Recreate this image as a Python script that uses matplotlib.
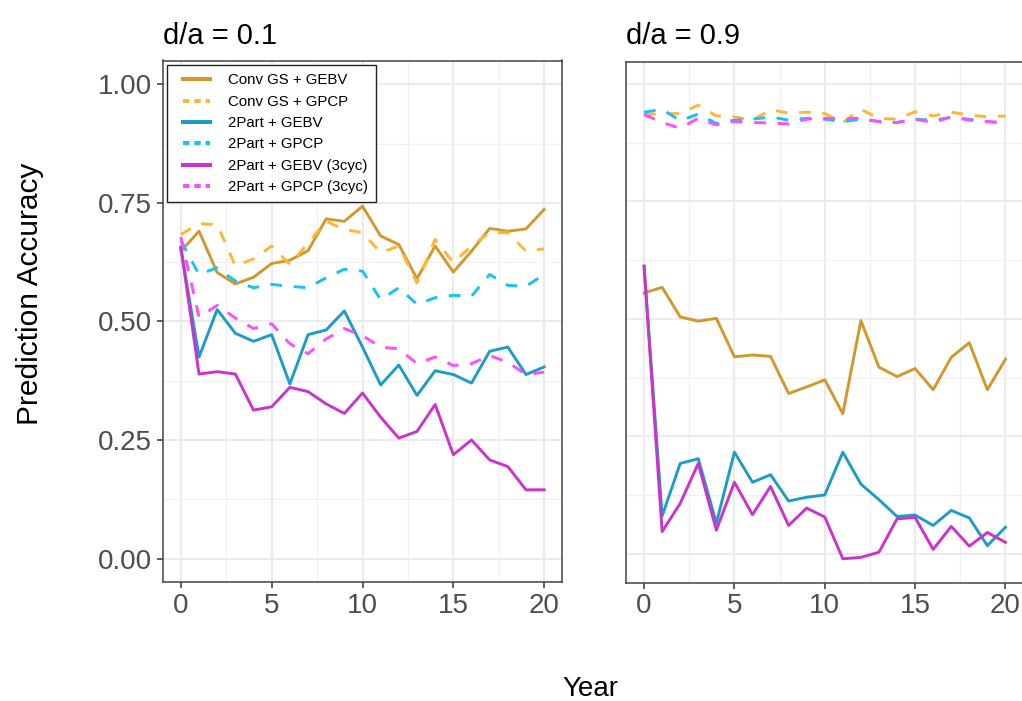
import matplotlib
matplotlib.use("Agg")
import matplotlib.pyplot as plt
from matplotlib.lines import Line2D
from matplotlib.legend_handler import HandlerLine2D

plt.rcParams['font.family'] = ['Liberation Sans', 'DejaVu Sans']

years = list(range(21))

series_names = ['Conv GS + GEBV', 'Conv GS + GPCP', '2Part + GEBV', '2Part + GPCP',
                '2Part + GEBV (3cyc)', '2Part + GPCP (3cyc)']
series_colors = ['#D3982C', '#FFB633', '#1C9CC7', '#14C3F5', '#CC33CC', '#FF4DFF']
series_dashed = [False, True, False, True, False, True]

# d/a = 0.1
low_conv_gebv = [0.648, 0.690, 0.603, 0.579, 0.593, 0.622, 0.629, 0.649, 0.716, 0.711, 0.743,
                 0.680, 0.662, 0.590, 0.659, 0.604, 0.648, 0.696, 0.690, 0.695, 0.736]
low_conv_gpcp = [0.683, 0.706, 0.704, 0.617, 0.632, 0.659, 0.620, 0.665, 0.711, 0.694, 0.687,
                 0.645, 0.659, 0.581, 0.673, 0.624, 0.659, 0.687, 0.687, 0.648, 0.653]
low_2p_gebv = [0.654, 0.425, 0.525, 0.475, 0.458, 0.472, 0.368, 0.472, 0.482, 0.522, 0.446,
               0.366, 0.408, 0.344, 0.396, 0.388, 0.370, 0.437, 0.446, 0.388, 0.404]
low_2p_gpcp = [0.670, 0.599, 0.613, 0.585, 0.571, 0.578, 0.574, 0.571, 0.592, 0.610, 0.606,
               0.546, 0.571, 0.536, 0.550, 0.555, 0.553, 0.599, 0.576, 0.574, 0.599]
low_3c_gebv = [0.657, 0.389, 0.394, 0.389, 0.313, 0.320, 0.361, 0.352, 0.326, 0.306, 0.349,
               0.298, 0.254, 0.268, 0.325, 0.219, 0.250, 0.208, 0.194, 0.145, 0.145]
low_3c_gpcp = [0.678, 0.509, 0.534, 0.507, 0.485, 0.495, 0.453, 0.432, 0.463, 0.485, 0.470,
               0.446, 0.442, 0.411, 0.425, 0.407, 0.411, 0.428, 0.414, 0.388, 0.393]

# d/a = 0.9
high_conv_gebv = [0.555, 0.567, 0.504, 0.495, 0.501, 0.419, 0.423, 0.420, 0.341, 0.355, 0.370,
                  0.298, 0.496, 0.397, 0.377, 0.394, 0.349, 0.418, 0.449, 0.349, 0.414]
high_conv_gpcp = [0.935, 0.937, 0.937, 0.955, 0.932, 0.930, 0.923, 0.945, 0.938, 0.940, 0.937,
                  0.918, 0.946, 0.927, 0.925, 0.941, 0.932, 0.940, 0.934, 0.930, 0.932]
high_2p_gebv = [0.612, 0.080, 0.192, 0.202, 0.065, 0.216, 0.152, 0.168, 0.112, 0.120, 0.125,
                0.216, 0.148, 0.115, 0.079, 0.082, 0.060, 0.092, 0.076, 0.017, 0.056]
high_2p_gpcp = [0.940, 0.946, 0.922, 0.936, 0.916, 0.923, 0.925, 0.930, 0.923, 0.927, 0.925,
                0.920, 0.925, 0.920, 0.918, 0.925, 0.923, 0.929, 0.925, 0.920, 0.916]
high_3c_gebv = [0.612, 0.047, 0.107, 0.192, 0.050, 0.152, 0.083, 0.143, 0.060, 0.097, 0.078,
                -0.011, -0.008, 0.003, 0.074, 0.077, 0.009, 0.058, 0.016, 0.045, 0.024]
high_3c_gpcp = [0.935, 0.918, 0.906, 0.927, 0.913, 0.920, 0.918, 0.917, 0.915, 0.925, 0.927,
                0.926, 0.927, 0.920, 0.918, 0.925, 0.918, 0.930, 0.923, 0.920, 0.918]

low_series = [low_conv_gebv, low_conv_gpcp, low_2p_gebv, low_2p_gpcp, low_3c_gebv, low_3c_gpcp]
high_series = [high_conv_gebv, high_conv_gpcp, high_2p_gebv, high_2p_gpcp, high_3c_gebv, high_3c_gpcp]

W, H = 1022, 701
fig = plt.figure(figsize=(W / 100, H / 100), dpi=100)
ax1 = fig.add_axes([162.7 / W, 1 - 582.3 / H, 399.6 / W, 521.8 / H])
ax2 = fig.add_axes([626 / W, 1 - 582.5 / H, 397.5 / W, 520.8 / H])


def style_axes(ax, ylim, show_y):
    ax.set_xlim(-1, 21)
    ax.set_ylim(*ylim)
    ax.set_xticks([0, 5, 10, 15, 20])
    ax.set_xticks([2.5, 7.5, 12.5, 17.5], minor=True)
    ax.set_yticks([0, 0.25, 0.5, 0.75, 1.0])
    ax.set_yticks([0.125, 0.375, 0.625, 0.875], minor=True)
    ax.set_axisbelow(True)
    ax.grid(which='major', color='#EBEBEB', lw=1.5)
    ax.grid(which='minor', color='#F0F0F0', lw=0.9)
    for sp in ax.spines.values():
        sp.set_color('#444444')
        sp.set_linewidth(1.1)
    ax.tick_params(which='minor', length=0)
    ax.tick_params(axis='x', which='major', length=4.5, width=1.1, color='#333333',
                   labelsize=20, labelcolor='#4D4D4D', pad=3)
    if show_y:
        ax.set_yticklabels(['0.00', '0.25', '0.50', '0.75', '1.00'])
        ax.tick_params(axis='y', which='major', length=4.5, width=1.1, color='#333333',
                       labelsize=20, labelcolor='#4D4D4D', pad=3)
    else:
        ax.tick_params(axis='y', which='major', length=0, labelleft=False)


for ax, data in [(ax1, low_series), (ax2, high_series)]:
    for vals, col, dashed in zip(data, series_colors, series_dashed):
        if dashed:
            ax.plot(years, vals, color=col, lw=2.1, dashes=(4, 4))
        else:
            ax.plot(years, vals, color=col, lw=2.1)

style_axes(ax1, (-0.05, 1.05), True)
style_axes(ax2, (-0.0615, 1.0475), False)

handles = []
for name, col, dashed in zip(series_names, series_colors, series_dashed):
    if dashed:
        handles.append(Line2D([], [], color=col, lw=2.9, dashes=(1.6, 1.2)))
    else:
        handles.append(Line2D([], [], color=col, lw=2.9))
leg = ax1.legend(handles, series_names, loc='upper left', bbox_to_anchor=(0.0115, 0.991),
                 borderaxespad=0, fontsize=10.8, handlelength=2.3, handletextpad=1.2,
                 labelspacing=0.49, borderpad=0.55, fancybox=False, framealpha=1,
                 handler_map={Line2D: HandlerLine2D(xpad=0.47)})
leg.get_frame().set_edgecolor('#222222')
leg.get_frame().set_linewidth(1.0)

fig.text(163 / W, 1 - 36 / H, 'd/a = 0.1', fontsize=21, ha='left', va='center', color='black')
fig.text(626 / W, 1 - 36 / H, 'd/a = 0.9', fontsize=21, ha='left', va='center', color='black')
fig.text(30 / W, 1 - 294 / H, 'Prediction Accuracy', fontsize=21.5, rotation=90,
         ha='center', va='center', color='black')
fig.text(590 / W, 1 - 689 / H, 'Year', fontsize=20, ha='center', va='center', color='black')

fig.savefig('out.png', dpi=100)
